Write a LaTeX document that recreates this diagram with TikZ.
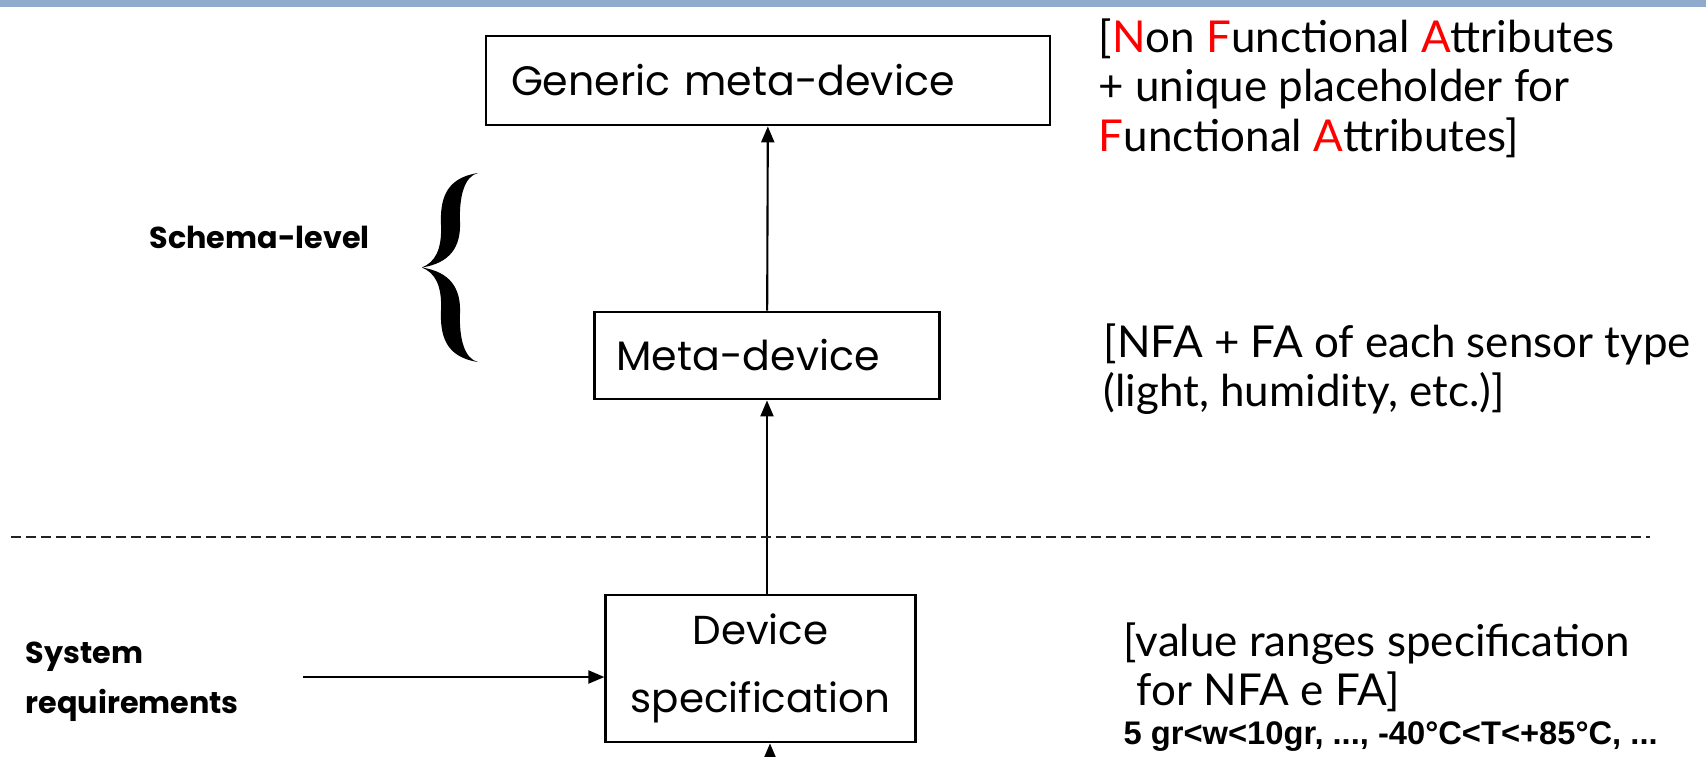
\documentclass[tikz,border=0pt]{standalone}
\usepackage{fontspec}
\setmainfont{Lato}
\newfontfamily\boxfont{Poppins}
\newfontfamily\notefont{Lato}
\newfontfamily\datafont{Liberation Sans}
\usetikzlibrary{arrows.meta,positioning,calc}
\definecolor{barblue}{HTML}{8FAACB}
\definecolor{linegray}{HTML}{222222}
\definecolor{attrred}{HTML}{FF0000}
\newcommand{\attr}[1]{\textcolor{attrred}{#1}}
\tikzset{
  devbox/.style={rectangle, draw=black, line width=0.8pt, inner xsep=0.25cm, inner ysep=0pt, font=\boxfont\fontsize{11.7}{14}\selectfont},
  flow/.style={-{Triangle[length=1.6mm,width=1.3mm]}, draw=black, line width=0.6pt},
  note/.style={anchor=north west, inner sep=0pt, align=left, font=\notefont\fontsize{12.5}{14.1}\selectfont},
  side label/.style={anchor=west, inner sep=0pt, align=left, font=\boxfont\bfseries\fontsize{8.6}{14.2}\selectfont},
  level line/.style={draw=linegray, line width=0.7pt, dash pattern=on 1mm off 0.5mm}
}

\begin{document}
\begin{tikzpicture}
  \useasboundingbox (0,0) rectangle (17.06,-7.56);
  \fill[barblue] (0,0) rectangle (17.06,-0.065);

  \node[devbox, minimum height=0.89cm, text width=5.14cm, align=left] (generic) at (7.68,-0.805) {Generic meta-device};
  \node[devbox, minimum height=0.87cm, text width=3.01cm, inner xsep=0.22cm, align=left] (meta) at (7.67,-3.555) {Meta-device};
  \node[devbox, minimum width=3.05cm, minimum height=1.47cm, align=center, font=\boxfont\fontsize{11.5}{19.5}\selectfont] (device) at (7.605,-6.685) {Device\\specification};

  \draw[flow] (meta) -- (generic);
  \draw[flow] (device.north -| meta.south) -- (meta.south);
  \coordinate (bottomin) at (7.70,-7.65);
  \draw[flow] (bottomin) -- (bottomin |- device.south);

  \fill (4.78,-1.73) .. controls (4.45,-1.78) and (4.40,-2.00) .. (4.41,-2.25)
    .. controls (4.42,-2.50) and (4.35,-2.62) .. (4.22,-2.675)
    .. controls (4.35,-2.73) and (4.42,-2.85) .. (4.41,-3.10)
    .. controls (4.40,-3.35) and (4.45,-3.57) .. (4.78,-3.62)
    .. controls (4.65,-3.59) and (4.59,-3.40) .. (4.60,-3.13)
    .. controls (4.61,-2.88) and (4.50,-2.72) .. (4.22,-2.675)
    .. controls (4.50,-2.63) and (4.61,-2.47) .. (4.60,-2.22)
    .. controls (4.59,-1.95) and (4.65,-1.76) .. (4.78,-1.73) -- cycle;
  \node[side label] (schema) at (1.49,-2.37) {Schema-level};

  \coordinate (dashL) at (0.11,-5.37);
  \coordinate (dashR) at (16.50,-5.37);
  \draw[level line] (dashL) -- (dashR);

  \node[side label] (sysreq) at (0.25,-6.82) {System\\requirements};
  \coordinate (reqtail) at (3.03,-6.77);
  \draw[flow] (reqtail) -- (reqtail -| device.west);

  \node[note] (nfa) at (10.98,-0.18) {[\attr{N}on \attr{F}unctional \attr{A}ttributes\\+ unique placeholder for\\\attr{F}unctional \attr{A}ttributes]};
  \node[note] (sensor) at (11.03,-3.23) {[NFA + FA of each sensor type\\(light, humidity, etc.)]};
  \node[note] (ranges) at (11.23,-6.22) {[value ranges specification\\\hspace*{0.3em}for NFA e FA]};
  \node[anchor=base west, inner sep=0pt, font=\datafont\bfseries\fontsize{9.3}{10}\selectfont] (rangeex) at (11.23,-7.44) {5 gr<w<10gr, ..., -40°C<T<+85°C, ...};
\end{tikzpicture}
\end{document}
